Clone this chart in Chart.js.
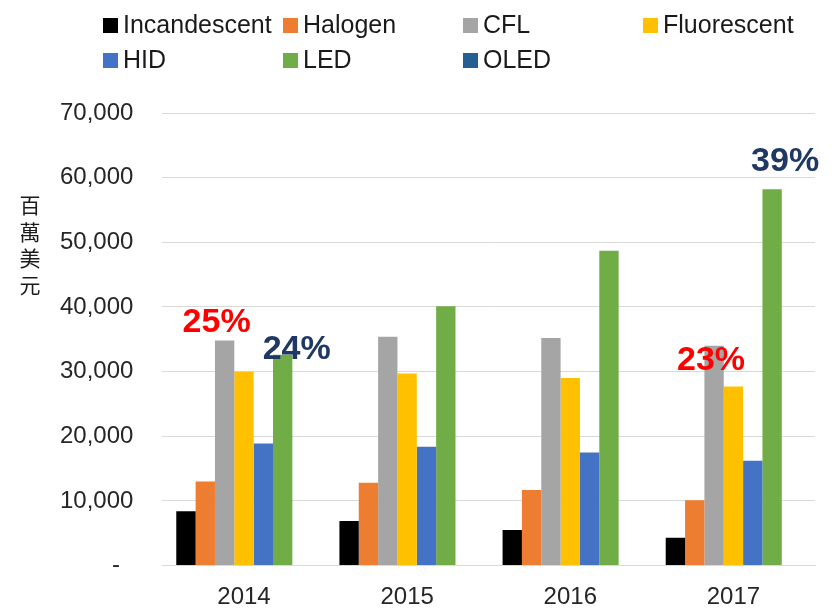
<!DOCTYPE html>
<html lang="zh-Hant">
<head>
    <meta charset="UTF-8">
    <title>Lighting market</title>
    <script src="https://cdn.jsdelivr.net/npm/chart.js@4.4.1/dist/chart.umd.min.js"></script>
    <style>
        html, body { margin: 0; padding: 0; background: #fff; }
        #wrap { width: 832px; height: 609px; }
    </style>
</head>
<body>
<div id="wrap"><canvas id="lighting"></canvas></div>
<script>
    // data
    years = ["2014", "2015", "2016", "2017"];
    seriesNames = ["Incandescent", "Halogen", "CFL", "Fluorescent", "HID", "LED", "OLED"];
    incandescent = [8400, 6900, 5500, 4300];
    halogen = [13000, 12800, 11700, 10100];
    cfl = [34800, 35400, 35200, 34000];
    fluorescent = [30000, 29700, 29000, 27700];
    hid = [18900, 18400, 17500, 16200];
    led = [32600, 40100, 48700, 58200];
    oled = [0, 0, 0, 0];
    yTicks = [0, 10000, 20000, 30000, 40000, 50000, 60000, 70000];
    yTitle = "百萬美元";
    // share labels: text, series index, year index
    shareTexts = ["25%", "24%", "23%", "39%"];
    shareSeries = [2, 5, 2, 5];
    shareYears = [0, 0, 3, 3];

    var colors = ['#000000', '#ED7D31', '#A5A5A5', '#FFC000', '#4472C4', '#70AD47', '#255E91'];
    var values = [incandescent, halogen, cfl, fluorescent, hid, led, oled];
    var font = "'Liberation Sans', Arial, sans-serif";

    var datasets = seriesNames.map(function (name, i) {
        return {
            label: name,
            data: values[i],
            backgroundColor: colors[i],
            borderWidth: 0,
            categoryPercentage: 0.83,
            barPercentage: 1.0
        };
    });

    // legend laid out as a 4 column grid like the original
    var gridLegend = {
        id: 'gridLegend',
        afterDraw: function (chart) {
            var ctx = chart.ctx;
            ctx.save();
            ctx.font = "25px " + font;
            ctx.textBaseline = 'alphabetic';
            ctx.textAlign = 'left';
            chart.data.datasets.forEach(function (ds, i) {
                var x = 103 + (i % 4) * 180;
                var y = 33 + Math.floor(i / 4) * 35;
                ctx.fillStyle = ds.backgroundColor;
                ctx.fillRect(x, y - 15, 15, 15);
                ctx.fillStyle = '#1a1a1a';
                ctx.fillText(ds.label, x + 20, y);
            });
            ctx.restore();
        }
    };

    // vertical (stacked) axis title
    var stackedTitle = {
        id: 'stackedTitle',
        afterDraw: function (chart) {
            var ctx = chart.ctx;
            ctx.save();
            ctx.font = "21px 'Noto Sans CJK TC', sans-serif";
            ctx.fillStyle = '#1a1a1a';
            ctx.textAlign = 'center';
            ctx.textBaseline = 'middle';
            Array.from(yTitle).forEach(function (ch, k) {
                ctx.fillText(ch, 30, 205 + k * 26.7);
            });
            ctx.restore();
        }
    };

    // percentage call-outs next to bars
    var shareLabels = {
        id: 'shareLabels',
        afterDatasetsDraw: function (chart, args, opts) {
            var ctx = chart.ctx;
            ctx.save();
            ctx.font = "bold 34px " + font;
            ctx.textAlign = 'center';
            ctx.textBaseline = 'alphabetic';
            shareTexts.forEach(function (txt, k) {
                var bar = chart.getDatasetMeta(shareSeries[k]).data[shareYears[k]];
                var off = opts.offsets[k];
                ctx.fillStyle = opts.colors[k];
                ctx.fillText(txt, bar.x + off[0], bar.y + off[1]);
            });
            ctx.restore();
        }
    };

    var ctx = document.getElementById('lighting').getContext('2d');
    var chart = new Chart(ctx, {
        type: 'bar',
        data: {
            labels: years,
            datasets: datasets
        },
        options: {
            responsive: true,
            maintainAspectRatio: false,
            animation: false,
            layout: {
                padding: {top: 113, left: 31, right: 17, bottom: -24}
            },
            plugins: {
                legend: {display: false},
                tooltip: {enabled: false},
                shareLabels: {
                    colors: ['#FF0000', '#1F3864', '#FF0000', '#1F3864'],
                    offsets: [[-8, -9], [14, 4], [-3, 24], [13, -18]]
                }
            },
            scales: {
                x: {
                    grid: {display: false, drawTicks: false},
                    border: {color: '#D9D9D9', width: 1},
                    ticks: {
                        color: '#262626',
                        padding: 20,
                        font: {family: font, size: 24, lineHeight: 1}
                    }
                },
                y: {
                    min: 0,
                    max: 70000,
                    afterBuildTicks: function (axis) {
                        axis.ticks = yTicks.map(function (v) { return {value: v}; });
                    },
                    grid: {color: '#D9D9D9', lineWidth: 1, drawTicks: false},
                    border: {display: false},
                    ticks: {
                        color: '#262626',
                        padding: 29,
                        font: {family: font, size: 24},
                        callback: function (v) {
                            if (v === 0) return '-  ';
                            return v.toLocaleString('en-US');
                        }
                    }
                }
            }
        },
        plugins: [gridLegend, stackedTitle, shareLabels]
    });
</script>
</body>
</html>
